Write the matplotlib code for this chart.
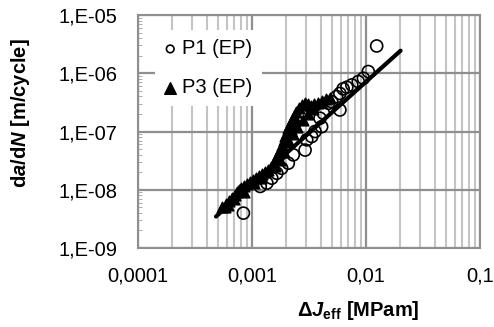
import matplotlib
matplotlib.use("Agg")
import matplotlib.pyplot as plt
from matplotlib.ticker import FixedLocator, FuncFormatter, LogLocator, NullFormatter

plt.rcParams['font.family'] = ['Liberation Sans', 'DejaVu Sans']
plt.rcParams['mathtext.fontset'] = 'custom'
plt.rcParams['mathtext.rm'] = 'Liberation Sans:bold'
plt.rcParams['mathtext.it'] = 'Liberation Sans:bold:italic'
plt.rcParams['mathtext.bf'] = 'Liberation Sans:bold'

# P1 (EP) - open circles
p1_dj = [0.0124, 0.01047, 0.00948, 0.00855, 0.0075, 0.00678, 0.0063, 0.0059, 0.00553, 0.005,
         0.00468, 0.0059, 0.00423, 0.00395, 0.00408, 0.00357, 0.00334, 0.00302, 0.00292, 0.0023,
         0.00208, 0.00182, 0.00165, 0.00149, 0.00135, 0.00118, 0.00084]
p1_dadn = [2.94e-6, 1.07e-6, 8.2e-7, 7.2e-7, 6.3e-7, 5.75e-7, 5.4e-7, 4.5e-7, 3.97e-7, 3.26e-7,
           3.05e-7, 2.34e-7, 2.06e-7, 1.69e-7, 1.21e-7, 1.0e-7, 8.2e-8, 7.2e-8, 4.8e-8, 3.97e-8,
           2.86e-8, 2.34e-8, 1.92e-8, 1.58e-8, 1.3e-8, 1.14e-8, 3.97e-9]

# P3 (EP) - filled triangles
p3_dj = [5.46e-4, 5.91e-4, 6.28e-4, 6.68e-4, 7.10e-4, 7.38e-4, 7.69e-4, 8.02e-4, 8.51e-4, 9.04e-4,
         9.59e-4, 1.02e-3, 1.08e-3, 1.15e-3, 1.22e-3, 1.30e-3, 1.38e-3, 1.47e-3, 1.56e-3, 1.63e-3,
         1.69e-3, 1.76e-3, 1.83e-3, 1.91e-3, 1.95e-3, 2.03e-3, 2.07e-3, 2.15e-3, 2.24e-3, 2.33e-3,
         2.43e-3, 2.58e-3, 2.75e-3, 2.92e-3, 3.10e-3, 3.30e-3, 3.50e-3, 3.79e-3, 4.11e-3, 4.46e-3,
         4.83e-3, 1.6e-3, 1.75e-3, 1.9e-3, 2.1e-3, 2.3e-3, 2.5e-3, 2.8e-3, 3.1e-3, 3.4e-3,
         1.2e-3, 1.05e-3, 8.5e-4, 7.0e-4, 6.2e-4, 5.8e-4, 2.4e-3, 2.2e-3, 2.0e-3]
p3_dadn = [5.09e-9, 5.73e-9, 6.45e-9, 7.26e-9, 8.18e-9, 9.21e-9, 9.96e-9, 1.08e-8, 1.17e-8, 1.26e-8,
           1.37e-8, 1.48e-8, 1.60e-8, 1.73e-8, 1.87e-8, 2.03e-8, 2.19e-8, 2.47e-8, 2.89e-8, 3.52e-8,
           4.13e-8, 4.83e-8, 5.89e-8, 7.18e-8, 8.41e-8, 9.84e-8, 1.15e-7, 1.35e-7, 1.58e-7, 1.85e-7,
           2.17e-7, 2.54e-7, 2.86e-7, 3.10e-7, 2.97e-7, 2.75e-7, 2.97e-7, 3.10e-7, 3.35e-7, 3.62e-7,
           3.77e-7, 2.6e-8, 3.3e-8, 4.5e-8, 6.5e-8, 9e-8, 1.2e-7, 1.6e-7, 2.0e-7, 2.4e-7,
           1.6e-8, 1.3e-8, 9e-9, 7e-9, 5.5e-9, 5.0e-9, 1.6e-7, 1.1e-7, 8e-8]

# power-law fit line
fit_dj = [4.83e-4, 0.0201]
fit_dadn = [3.47e-9, 2.44e-6]

x_ticks = [1e-4, 1e-3, 1e-2, 1e-1]
x_labels = ['0,0001', '0,001', '0,01', '0,1']
y_ticks = [1e-9, 1e-8, 1e-7, 1e-6, 1e-5]
y_labels = ['1,E-09', '1,E-08', '1,E-07', '1,E-06', '1,E-05']

fig = plt.figure(figsize=(4.94, 3.27), dpi=100)
ax = fig.add_axes([0.2794, 0.2416, 0.6923, 0.7125])
ax.set_xscale('log')
ax.set_yscale('log')
ax.set_xlim(1e-4, 1e-1)
ax.set_ylim(1e-9, 1e-5)

ax.xaxis.set_major_locator(FixedLocator(x_ticks))
ax.xaxis.set_major_formatter(FuncFormatter(lambda v, p: x_labels[x_ticks.index(v)] if v in x_ticks else ''))
ax.xaxis.set_minor_locator(LogLocator(base=10, subs=range(2, 10)))
ax.xaxis.set_minor_formatter(NullFormatter())
ax.yaxis.set_major_locator(FixedLocator(y_ticks))
ax.yaxis.set_major_formatter(FuncFormatter(lambda v, p: y_labels[y_ticks.index(v)] if v in y_ticks else ''))
ax.yaxis.set_minor_locator(LogLocator(base=10, subs=range(2, 10)))
ax.yaxis.set_minor_formatter(NullFormatter())

ax.grid(True, which='major', color='#8f8f8f', lw=1.6)
ax.grid(True, which='minor', axis='x', color='#c4c4c4', lw=1.5)
ax.tick_params(which='major', length=0, labelsize=14.5, colors='black')
ax.tick_params(axis='x', which='major', pad=13.5)
ax.tick_params(axis='y', which='major', pad=15)
ax.tick_params(axis='x', which='minor', length=0)
ax.tick_params(axis='y', which='minor', direction='in', length=3, color='#a0a0a0')
for s in ax.spines.values():
    s.set_color('#8f8f8f')
    s.set_linewidth(1.5)
ax.set_axisbelow(True)

ax.scatter(p1_dj, p1_dadn, s=75, facecolors='none', edgecolors='black', linewidths=1.2,
           label='P1 (EP)', zorder=3)
ax.scatter(p3_dj, p3_dadn, s=60, marker='^', color='black', label='P3 (EP)', zorder=3)
ax.plot(fit_dj, fit_dadn, color='black', lw=3, zorder=4, solid_capstyle='round')

leg = ax.legend(loc='upper left', bbox_to_anchor=(0.05, 0.935), frameon=True, fancybox=False,
                edgecolor='white', framealpha=1, fontsize=14.5, handletextpad=0.3,
                handlelength=0.6, labelspacing=1.0, borderpad=0.45, borderaxespad=0)
leg.get_frame().set_linewidth(0)
leg.legend_handles[0].set_sizes([30])
leg.legend_handles[1].set_sizes([70])

ax.set_xlabel(r'$\Delta\mathit{J}_{\mathrm{eff}}$ [MPam]', fontsize=14.5, fontweight='bold')
ax.xaxis.set_label_coords(0.645, -0.218)
ax.set_ylabel(r'd$\mathit{a}$/d$\mathit{N}$ [m/cycle]', fontsize=14.5, fontweight='bold')
ax.yaxis.set_label_coords(-0.31, 0.578)

fig.savefig('out.png', dpi=100)
